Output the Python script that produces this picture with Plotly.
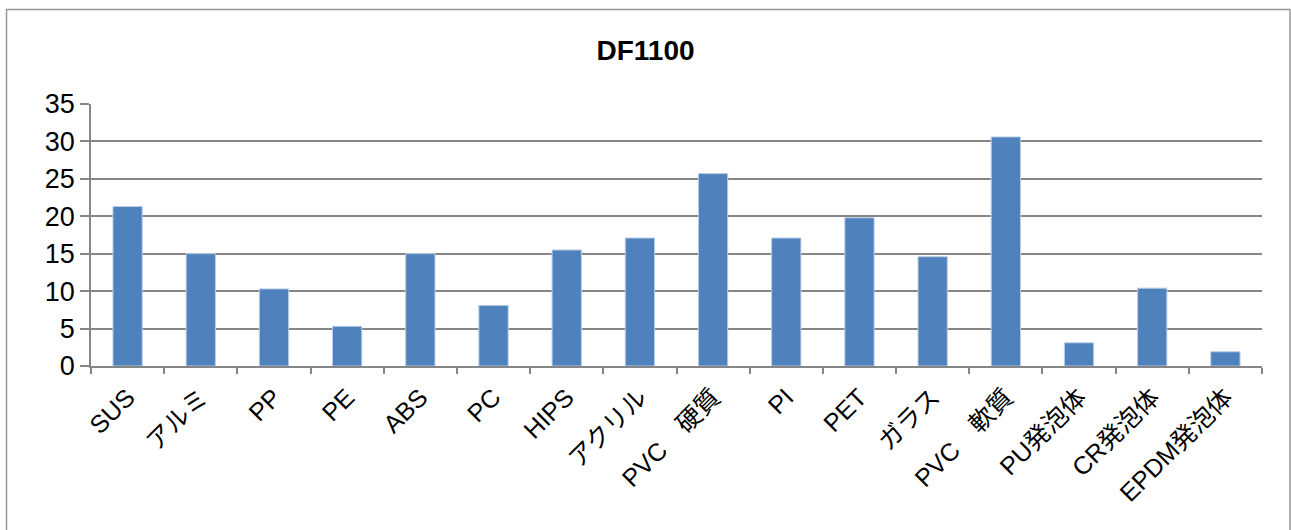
import plotly.graph_objects as go

categories = ["SUS", "アルミ", "PP", "PE", "ABS", "PC", "HIPS", "アクリル", "PVC　硬質",
              "PI", "PET", "ガラス", "PVC　軟質", "PU発泡体", "CR発泡体", "EPDM発泡体"]
values = [21.3, 15.0, 10.3, 5.3, 15.0, 8.1, 15.5, 17.1, 25.7, 17.1, 19.8, 14.6, 30.6, 3.1, 10.4, 1.9]
y_ticks = [0, 5, 10, 15, 20, 25, 30, 35]
title_text = "DF1100"

FONT = "Liberation Sans, Arial, Noto Sans CJK JP, sans-serif"

fig = go.Figure(go.Bar(
    x=categories, y=values,
    marker=dict(color="#4F81BD", line=dict(color="#B9CDE5", width=1)),
))

W, H = 1291, 530
L, R, T, B = 91, 29, 104, 164
pw, ph = W - L - R, H - T - B

def px_x(p):
    return (p - L) / pw

def px_y(p):
    return (H - B - p) / ph

fig.update_layout(
    width=W, height=H,
    margin=dict(l=L, r=R, t=T, b=B),
    paper_bgcolor="white", plot_bgcolor="white",
    bargap=0.6,
    showlegend=False,
    font=dict(family=FONT, size=25, color="black"),
    title=dict(text="<b>" + title_text + "</b>", x=0.5, xanchor="center",
               y=1 - 50 / H, yanchor="middle",
               font=dict(family=FONT, size=28, color="black")),
    xaxis=dict(
        type="category", tickangle=-45, tickson="boundaries",
        ticks="outside", ticklen=6, tickcolor="#868686", tickwidth=1.5,
        showline=True, linecolor="#868686", linewidth=1.5,
        showgrid=False, tickfont=dict(family=FONT, size=25),
        ticklabelstandoff=5,
    ),
    yaxis=dict(
        range=[0, 35], tickvals=y_ticks,
        ticks="outside", ticklen=9, tickcolor="#868686", tickwidth=1.5,
        showline=True, linecolor="#868686", linewidth=1.5,
        showgrid=True, gridcolor="#868686", gridwidth=1.5,
        zeroline=False, tickfont=dict(family=FONT, size=27),
    ),
    shapes=[dict(type="rect", xref="paper", yref="paper",
                 x0=px_x(6.5), x1=px_x(1290), y0=px_y(560), y1=px_y(9.5),
                 line=dict(color="#969696", width=1.5), fillcolor="rgba(0,0,0,0)",
                 layer="below")],
)

fig.write_html("out.html",
               config={"displayModeBar": False},
               post_script="document.body.style.margin='0';document.body.style.overflow='hidden';")
